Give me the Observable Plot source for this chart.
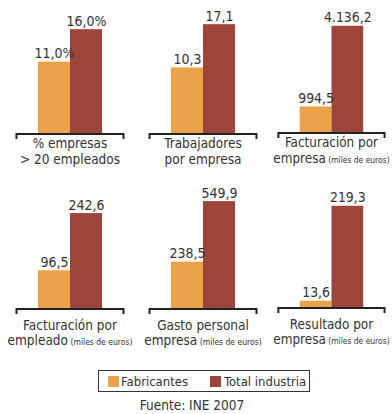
<!DOCTYPE html>
<html><head><meta charset="utf-8">
<script src="https://cdn.jsdelivr.net/npm/d3@7"></script>
<script src="https://cdn.jsdelivr.net/npm/@observablehq/plot@0.6"></script>
<style>
body{margin:0;background:#fff;}
#root{position:relative;width:392px;height:414px;overflow:hidden;font-family:"DejaVu Sans Condensed","Liberation Sans",sans-serif;color:#333;}
.panel{position:absolute;}
.panel svg{overflow:visible;}
#legend{position:absolute;left:98px;top:370px;width:210px;height:20px;border:1.5px solid #333;font-size:13px;line-height:13px;white-space:nowrap;}
#legend span{position:absolute;}
#legend .sw{width:11px;height:11px;top:4.5px;}
#legend .lab{top:4px;}
#source{position:absolute;left:0;width:384px;top:399px;text-align:center;font-size:13.5px;line-height:13.5px;color:#333;}
</style></head><body><div id="root"></div>
<script>
const series = ["Fabricantes", "Total industria"];
const line1 = ["% empresas", "Trabajadores", "Facturación por", "Facturación por", "Gasto personal", "Resultado por"];
const line2 = ["> 20 empleados", "por empresa", "empresa", "empleado", "empresa", "empresa"];
const unit = ["", "", "(miles de euros)", "(miles de euros)", "(miles de euros)", "(miles de euros)"];
const fabricantes = [11.0, 10.3, 994.5, 96.5, 238.5, 13.6];
const totalIndustria = [16.0, 17.1, 4136.2, 242.6, 549.9, 219.3];
const suffix = ["%", "", "", "", "", ""];
const axisMax = [20.5, 20.9, 5140, 340, 684, 286];

const colors = ["#eba34b", "#9d443b"];
const font = '"DejaVu Sans Condensed","Liberation Sans",sans-serif';
const es = d3.formatLocale({decimal: ",", thousands: ".", grouping: [3], currency: ["", "€"]});
const fmt = es.format(",.1f");

const root = document.getElementById("root");
const lefts = [0, 133, 262];
const tops = [0, 175];
const labelOff = [[15, 31], [22, 37]];

for (let i = 0; i < 6; i++) {
  const row = Math.floor(i / 3), col = i % 3;
  const data = series.map((s, j) => ({series: s, value: j ? totalIndustria[i] : fabricantes[i]}));
  const plot = Plot.plot({
    width: 131, height: 175,
    marginTop: 0, marginBottom: 42, marginLeft: 16, marginRight: 7,
    x: {domain: series, paddingInner: 0, paddingOuter: 0.6875, axis: null},
    y: {domain: [0, axisMax[i]], axis: null},
    color: {domain: series, range: colors},
    style: {fontFamily: font, fontSize: "14px", color: "#333", background: "transparent"},
    marks: [
      Plot.barY(data, {x: "series", y: "value", fill: "series"}),
      Plot.text(data, {x: "series", y: "value", text: d => fmt(d.value) + suffix[i], dy: -4, lineAnchor: "bottom", fill: "#333", fontSize: 14})
    ]
  });
  const div = document.createElement("div");
  div.className = "panel";
  div.style.left = lefts[col] + "px";
  div.style.top = tops[row] + "px";
  div.appendChild(plot);
  root.appendChild(div);
  const svg = d3.select(plot);
  const yb = 133;
  svg.append("path")
    .attr("d", `M16.5,${yb + 6}V${yb + 1}H123.5V${yb + 6}`)
    .attr("fill", "none").attr("stroke", "#222").attr("stroke-width", 2);
  const cx = (16 + 124) / 2;
  svg.append("text").attr("x", cx).attr("y", yb + labelOff[row][0])
    .attr("text-anchor", "middle").attr("fill", "#333")
    .style("font-family", font).style("font-size", "13.5px").text(line1[i]);
  const t2 = svg.append("text").attr("x", cx).attr("y", yb + labelOff[row][1])
    .attr("text-anchor", "middle").attr("fill", "#333")
    .style("font-family", font).style("font-size", "13.5px");
  t2.append("tspan").text(line2[i]);
  if (unit[i]) t2.append("tspan").style("font-size", "8.5px").text(" " + unit[i]);
}

const legend = document.createElement("div");
legend.id = "legend";
legend.innerHTML = `<span class="sw" style="background:${colors[0]};left:8.5px"></span><span class="lab" style="left:22px">${series[0]}</span>` +
  `<span class="sw" style="background:${colors[1]};left:110.5px"></span><span class="lab" style="left:125px">${series[1]}</span>`;
root.appendChild(legend);

const source = document.createElement("div");
source.id = "source";
source.textContent = "Fuente: INE 2007";
root.appendChild(source);
</script>
</body></html>
